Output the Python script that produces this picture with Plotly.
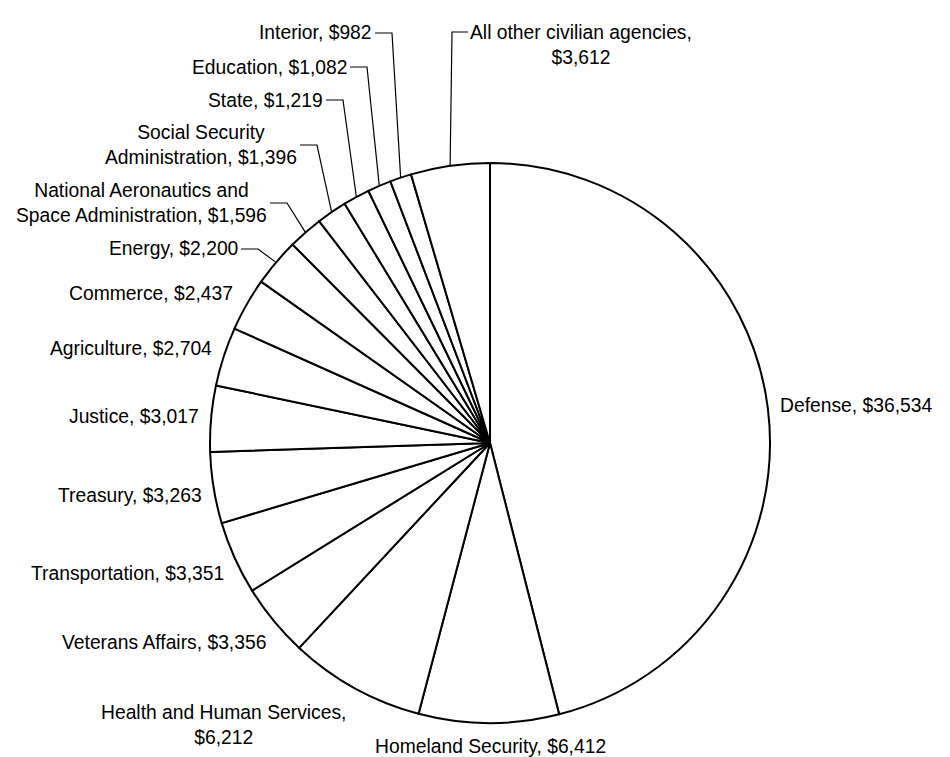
import math
import plotly.graph_objects as go

# ---- data ----
agencies = [
    "Defense", "Homeland Security", "Health and Human Services", "Veterans Affairs",
    "Transportation", "Treasury", "Justice", "Agriculture", "Commerce", "Energy",
    "National Aeronautics and Space Administration", "Social Security Administration",
    "State", "Education", "Interior", "All other civilian agencies",
]
amounts = [36534, 6412, 6212, 3356, 3351, 3263, 3017, 2704, 2437, 2200,
           1596, 1396, 1219, 1082, 982, 3612]

# ---- layout (pixels in the 950x757 page) ----
PAGE_W, PAGE_H = 950, 757
OFF = 8  # default body margin of the html page
W, H = PAGE_W - OFF, PAGE_H - OFF
CX, CY, R = 490, 443, 280
FONT = "Liberation Sans, Arial, sans-serif"
FSIZE = 19.3

# how each label is wrapped onto lines
wrap = {
    "National Aeronautics and Space Administration": ("National Aeronautics and", "Space Administration"),
    "Social Security Administration": ("Social Security", "Administration"),
}
wrap_before_value = {"Health and Human Services", "All other civilian agencies"}

# label text placement: (x, y, xanchor)
label_pos = {
    "Defense": (780, 405, "left"),
    "Homeland Security": (490, 746, "center"),
    "Health and Human Services": (223, 725, "center"),
    "Veterans Affairs": (266, 642, "right"),
    "Transportation": (224, 573, "right"),
    "Treasury": (202, 495, "right"),
    "Justice": (199, 416, "right"),
    "Agriculture": (212, 348, "right"),
    "Commerce": (233, 293, "right"),
    "Energy": (238, 249, "right"),
    "National Aeronautics and Space Administration": (267, 203, "right"),
    "Social Security Administration": (297, 145, "right"),
    "State": (323, 100, "right"),
    "Education": (347, 67, "right"),
    "Interior": (372, 33, "right"),
    "All other civilian agencies": (470, 45, "left"),
}
# leader lines: label -> y (px) where the leader meets the label
leader_y = {
    "Energy": 249,
    "National Aeronautics and Space Administration": 203,
    "Social Security Administration": 145,
    "State": 100,
    "Education": 67,
    "Interior": 33,
    "All other civilian agencies": 32,
}


def px(x):
    return (x - OFF) / W


def py(y):
    return 1 - (y - OFF) / H


def label_text(name, val):
    v = f"${val:,}"
    if name in wrap:
        a, b = wrap[name]
        return f"{a}<br>{b}, {v}"
    if name in wrap_before_value:
        return f"{name},<br>{v}"
    return f"{name}, {v}"


fig = go.Figure(go.Pie(
    labels=agencies,
    values=amounts,
    sort=False,
    direction="clockwise",
    rotation=0,
    textinfo="none",
    hoverinfo="label+value",
    marker=dict(colors=["white"] * len(agencies), line=dict(color="black", width=2)),
    domain=dict(x=[px(CX - R), px(CX + R)], y=[py(CY + R), py(CY - R)]),
    showlegend=False,
))

total = sum(amounts)
annotations = []
shapes = []
cum = 0
for name, val in zip(agencies, amounts):
    mid = (cum + val / 2) / total * 2 * math.pi
    cum += val
    x, y, anchor = label_pos[name]
    annotations.append(dict(
        text=label_text(name, val), x=px(x), y=py(y), xref="paper", yref="paper",
        xanchor=anchor, yanchor="middle", showarrow=False, align="center",
        borderpad=0, borderwidth=0,
        font=dict(family=FONT, size=FSIZE, color="black"),
    ))
    if name in leader_y:
        ex = CX + R * math.sin(mid)
        ey = CY - R * math.cos(mid)
        ly = leader_y[name]
        if anchor == "right":
            tx, kx = x + 3, x + 20
        else:
            tx, kx = x - 2, x - 18
        path = (f"M {px(tx)},{py(ly)} L {px(kx)},{py(ly)} L {px(ex)},{py(ey)}")
        shapes.append(dict(type="path", path=path, xref="paper", yref="paper",
                           line=dict(color="black", width=1.2)))

fig.update_layout(
    width=W, height=H,
    margin=dict(l=0, r=0, t=0, b=0),
    paper_bgcolor="white", plot_bgcolor="white",
    annotations=annotations, shapes=shapes,
    font=dict(family=FONT, size=FSIZE, color="black"),
)
fig.write_html("out.html")
